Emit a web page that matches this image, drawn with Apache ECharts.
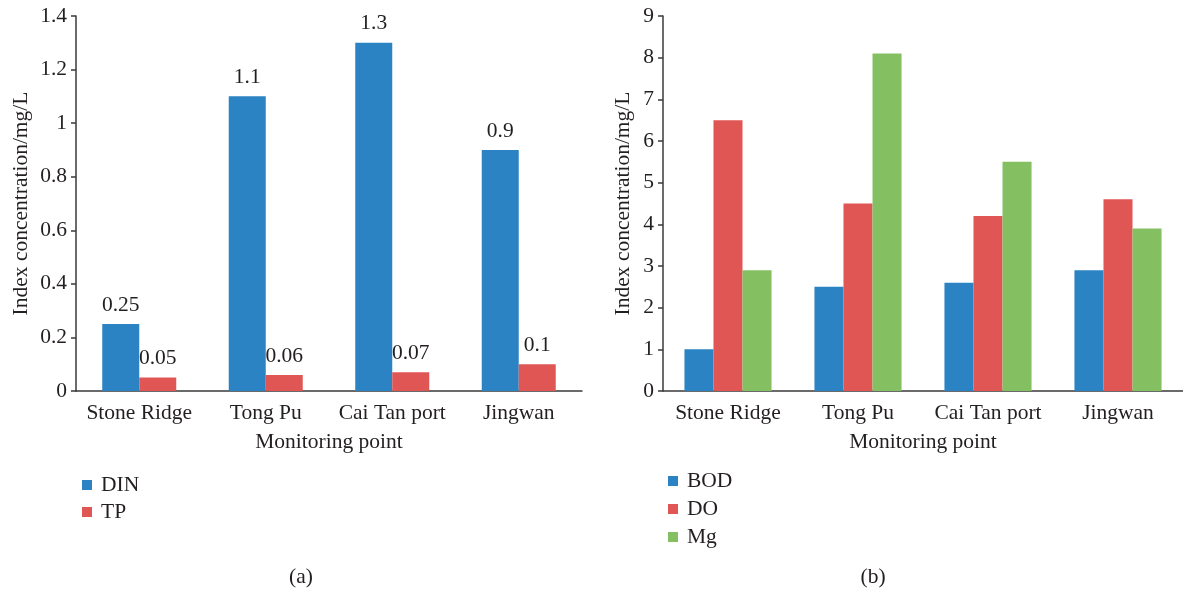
<!DOCTYPE html>
<html>
<head>
<meta charset="utf-8">
<script src="https://cdn.jsdelivr.net/npm/echarts@6/dist/echarts.min.js"></script>
<style>html,body{margin:0;padding:0;background:#fff}#c{width:1183px;height:590px}</style>
</head>
<body>
<div id="c"></div>
<script>
const categories = ['Stone Ridge', 'Tong Pu', 'Cai Tan port', 'Jingwan'];
const dinValues = [0.25, 1.1, 1.3, 0.9];
const tpValues = [0.05, 0.06, 0.07, 0.1];
const bodValues = [1, 2.5, 2.6, 2.9];
const doValues = [6.5, 4.5, 4.2, 4.6];
const mgValues = [2.9, 8.1, 5.5, 3.9];
const yTitle = 'Index concentration/mg/L';
const xTitle = 'Monitoring point';

const FONT = 'Liberation Serif';
const FS = 21.5;
const TXT = '#231F20';
const AX = '#3a3a3a';
const BLUE = '#2B83C3', RED = '#E05654', GREEN = '#84C062';

function xAxis(idx) {
  return {
    type: 'category', gridIndex: idx, data: categories,
    name: xTitle, nameLocation: 'middle', nameGap: 40,
    nameTextStyle: { fontFamily: FONT, fontSize: FS, color: TXT },
    axisLine: { lineStyle: { color: AX, width: 1.5 } },
    axisTick: { inside: true, length: 5, lineStyle: { color: AX, width: 1.5 } },
    axisLabel: { interval: 0, fontFamily: FONT, fontSize: FS, color: TXT, margin: 11 }
  };
}
function yAxis(idx, max, interval, gap) {
  return {
    type: 'value', gridIndex: idx, min: 0, max: max, interval: interval,
    name: yTitle, nameLocation: 'middle', nameGap: gap, nameRotate: 90,
    nameTextStyle: { fontFamily: FONT, fontSize: FS, color: TXT },
    axisLine: { show: true, lineStyle: { color: AX, width: 1.5 } },
    axisTick: { show: true, length: 5, lineStyle: { color: AX, width: 1.5 } },
    splitLine: { show: false },
    axisLabel: { fontFamily: FONT, fontSize: FS, color: TXT, margin: 9 }
  };
}
const lbl = { show: true, position: 'top', distance: 8, fontFamily: FONT, fontSize: FS, color: TXT };

const option = {
  animation: false,
  backgroundColor: '#fff',
  textStyle: { fontFamily: FONT },
  title: [
    { text: '(a)', left: 296, top: 561, textAlign: 'center', textStyle: { fontFamily: FONT, fontSize: FS, fontWeight: 'normal', color: TXT } },
    { text: '(b)', left: 868, top: 561, textAlign: 'center', textStyle: { fontFamily: FONT, fontSize: FS, fontWeight: 'normal', color: TXT } }
  ],
  grid: [
    { left: 76, top: 16, width: 506, height: 375 },
    { left: 663, top: 16, width: 524, height: 375 }
  ],
  xAxis: [xAxis(0), xAxis(1)],
  yAxis: [yAxis(0, 1.4, 0.2, 44), yAxis(1, 9, 1, 29)],
  legend: [
    { data: ['DIN', 'TP'], orient: 'vertical', left: 77, top: 469, itemWidth: 10, itemHeight: 10, itemGap: 5, icon: 'rect',
      textStyle: { fontFamily: FONT, fontSize: FS, color: TXT, padding: [0, 0, 0, 4] } },
    { data: ['BOD', 'DO', 'Mg'], orient: 'vertical', left: 663, top: 465, itemWidth: 10, itemHeight: 10, itemGap: 6, icon: 'rect',
      textStyle: { fontFamily: FONT, fontSize: FS, color: TXT, padding: [0, 0, 0, 4] } }
  ],
  series: [
    { name: 'DIN', type: 'bar', xAxisIndex: 0, yAxisIndex: 0, data: dinValues, itemStyle: { color: BLUE }, barGap: '0%', barCategoryGap: '41.5%', label: lbl },
    { name: 'TP', type: 'bar', xAxisIndex: 0, yAxisIndex: 0, data: tpValues, itemStyle: { color: RED }, barGap: '0%', barCategoryGap: '41.5%', label: lbl },
    { name: 'BOD', type: 'bar', xAxisIndex: 1, yAxisIndex: 1, data: bodValues, itemStyle: { color: BLUE }, barGap: '0%', barCategoryGap: '33%' },
    { name: 'DO', type: 'bar', xAxisIndex: 1, yAxisIndex: 1, data: doValues, itemStyle: { color: RED }, barGap: '0%', barCategoryGap: '33%' },
    { name: 'Mg', type: 'bar', xAxisIndex: 1, yAxisIndex: 1, data: mgValues, itemStyle: { color: GREEN }, barGap: '0%', barCategoryGap: '33%' }
  ]
};
const chart = echarts.init(document.getElementById('c'), null, { renderer: 'canvas' });
chart.setOption(option);
</script>
</body>
</html>
